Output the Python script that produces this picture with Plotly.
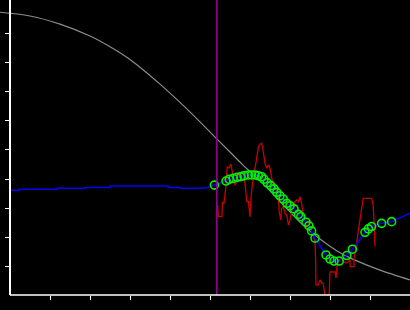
import plotly.graph_objects as go

# ---- data ----
curve_x = [-0.25, 0.5, 1.25, 2.0, 2.5, 3.0, 3.75, 4.25, 4.75, 5.15, 5.5, 5.825,
           6.125, 6.5, 6.925, 7.325, 7.75, 8.175, 8.5, 8.925, 9.25, 10.0]
curve_y = [9.75, 9.62, 9.34, 8.93, 8.56, 8.12, 7.27, 6.64, 5.97, 5.41, 4.93, 4.48,
           4.10, 3.59, 2.97, 2.41, 1.93, 1.52, 1.28, 1.03, 0.86, 0.52]

base_x = [0.0, 0.225, 0.225, 1.175, 1.175, 1.875, 1.875, 2.5, 2.5, 3.95, 3.95, 4.25,
          4.25, 4.8, 4.925]
base_y = [3.61, 3.61, 3.645, 3.645, 3.68, 3.68, 3.71, 3.71, 3.76, 3.76, 3.71, 3.71,
          3.68, 3.68, 3.71]

pts_x = [5.11, 5.40, 5.48, 5.58, 5.68, 5.77, 5.85, 5.96, 6.04, 6.125, 6.21, 6.29, 6.35,
         6.43, 6.52, 6.60, 6.67, 6.75, 6.83, 6.92, 7.00, 7.10, 7.21, 7.27, 7.40, 7.47,
         7.54, 7.625, 7.90, 8.00, 8.10, 8.23, 8.42, 8.56, 8.875, 8.96, 9.04, 9.29, 9.54]
pts_y = [3.79, 3.93, 3.99, 4.02, 4.06, 4.08, 4.11, 4.14, 4.14, 4.14, 4.11, 4.08, 3.99,
         3.87, 3.77, 3.66, 3.54, 3.42, 3.31, 3.16, 3.08, 2.97, 2.78, 2.70, 2.51, 2.39,
         2.21, 1.96, 1.38, 1.24, 1.17, 1.17, 1.36, 1.58, 2.16, 2.28, 2.36, 2.47, 2.53]
tail_x = [10.0]
tail_y = [2.82]

raw_x = [5.19, 5.21, 5.30, 5.31, 5.35, 5.375, 5.40, 5.43, 5.475, 5.52, 5.56, 5.60, 5.625,
         5.67, 5.71, 5.75, 5.79, 5.83, 5.875, 5.92, 5.96, 6.00, 6.03, 6.07, 6.10, 6.14,
         6.17, 6.21, 6.25, 6.29, 6.32, 6.35, 6.375, 6.42, 6.46, 6.50, 6.525, 6.56, 6.58,
         6.625, 6.67, 6.71, 6.73, 6.77, 6.79, 6.83, 6.875, 6.92, 6.96, 7.00, 7.04, 7.08,
         7.125, 7.17, 7.21, 7.25, 7.29, 7.32, 7.35, 7.375, 7.42, 7.46, 7.50, 7.54, 7.58,
         7.625, 7.64, 7.65, 7.70, 7.75, 7.79, 7.825, 7.875, 7.98, 8.00, 8.125, 8.15, 8.19,
         8.29, 8.35, 8.425, 8.50, 8.50, 8.60, 8.60, 8.65, 8.71, 8.775, 8.83, 9.04, 9.08,
         9.11, 9.125]
raw_y = [3.10, 2.70, 2.70, 3.21, 3.17, 3.45, 3.79, 4.42, 4.38, 4.51, 4.25, 4.02, 3.79,
         3.91, 4.14, 4.20, 4.25, 4.14, 3.85, 3.22, 3.22, 2.70, 3.45, 3.91, 4.25, 4.48,
         4.83, 5.11, 5.20, 5.23, 5.06, 4.83, 4.54, 4.37, 4.48, 4.37, 4.20, 3.91, 3.68,
         3.79, 3.56, 3.33, 2.87, 2.59, 2.99, 3.04, 2.82, 2.76, 2.41, 2.59, 2.87, 3.04,
         3.22, 3.28, 3.22, 3.39, 3.16, 2.87, 2.64, 2.64, 2.30, 2.53, 2.36, 2.18, 2.07,
         1.84, 1.21, 0.34, 0.34, 0.52, 0.42, 0.42, 0.00, 0.00, 0.80, 0.80, 0.59, 1.15,
         1.27, 1.14, 1.10, 1.21, 0.98, 0.98, 1.28, 1.62, 2.24, 2.86, 3.33, 3.33, 3.10,
         2.24, 1.67]

event_x = 5.17
tick_vals = [1, 2, 3, 4, 5, 6, 7, 8, 9]

X_MIN, X_MAX = -0.25, 10.0
Y_MIN, Y_MAX = 0.0, 10.172

fig = go.Figure()
fig.add_trace(go.Scatter(x=curve_x, y=curve_y, mode="lines",
                         line=dict(color="#8c8c8c", width=1.2, shape="spline", smoothing=1.0),
                         hoverinfo="skip"))
fig.add_trace(go.Scatter(x=raw_x, y=raw_y, mode="lines",
                         line=dict(color="#c80000", width=1.3), hoverinfo="skip"))
fig.add_trace(go.Scatter(x=base_x + pts_x + tail_x, y=base_y + pts_y + tail_y, mode="lines",
                         line=dict(color="#0000ff", width=1.5), hoverinfo="skip"))
fig.add_trace(go.Scatter(x=pts_x, y=pts_y, mode="markers",
                         marker=dict(symbol="circle-open", size=8, color="#00f000",
                                     line=dict(width=1.6, color="#00f000")),
                         hoverinfo="skip"))

fig.add_shape(type="line", xref="x", yref="paper", x0=event_x, x1=event_x, y0=0, y1=1,
              line=dict(color="#960096", width=1.5), layer="above")
# bottom axis line (starts at the y axis)
fig.add_shape(type="line", xref="paper", yref="paper", x0=10 / 410, x1=1, y0=0, y1=0,
              line=dict(color="white", width=1.5), layer="above")

fig.update_layout(
    width=410, height=310,
    margin=dict(l=0, r=0, t=0, b=15, pad=0),
    paper_bgcolor="black", plot_bgcolor="black",
    showlegend=False,
    xaxis=dict(range=[X_MIN, X_MAX], domain=[0, 1], showgrid=False, zeroline=False,
               showline=False, ticks="outside", tickvals=tick_vals, ticklen=4,
               tickwidth=1, tickcolor="white", showticklabels=False, fixedrange=True),
    yaxis=dict(range=[Y_MIN, Y_MAX], anchor="free", position=10 / 410, showgrid=False,
               zeroline=False, showline=True, linecolor="white", linewidth=1.5,
               ticks="outside", tickvals=tick_vals, ticklen=4, tickwidth=1,
               tickcolor="white", showticklabels=False, fixedrange=True),
)

fig.write_html("out.html")
